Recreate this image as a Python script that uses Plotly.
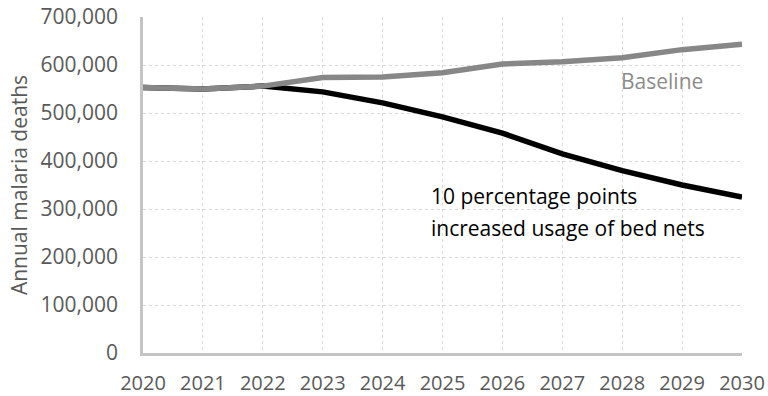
import plotly.graph_objects as go

years = [2020, 2021, 2022, 2023, 2024, 2025, 2026, 2027, 2028, 2029, 2030]
baseline = [553000, 550000, 556000, 574000, 575000, 584000, 602000, 607000, 615000, 632000, 643000]
bed_nets = [553000, 550000, 556000, 544000, 521000, 492000, 458000, 415000, 380000, 350000, 325000]
y_ticks = [0, 100000, 200000, 300000, 400000, 500000, 600000, 700000]

font_family = "Open Sans, Lato, sans-serif"

fig = go.Figure()

fig.add_trace(go.Scatter(
    x=years, y=bed_nets, mode="lines",
    line=dict(color="#000000", width=5.5),
    name="10 percentage points increased usage of bed nets",
))
fig.add_trace(go.Scatter(
    x=years, y=baseline, mode="lines",
    line=dict(color="#878787", width=5.5),
    name="Baseline",
))

fig.add_annotation(
    x=2028.66, y=567000, text="Baseline", showarrow=False,
    font=dict(size=21, color="#8c8c8c", family=font_family),
)
# two lines placed separately to get the wider line spacing
fig.add_annotation(
    x=2024.77, y=328000, xanchor="left", yanchor="middle",
    text="10 percentage points", showarrow=False,
    font=dict(size=21, color="#000000", family=font_family),
)
fig.add_annotation(
    x=2024.77, y=261000, xanchor="left", yanchor="middle",
    text="increased usage of bed nets", showarrow=False,
    font=dict(size=21, color="#000000", family=font_family),
)

fig.update_layout(
    width=768, height=396,
    margin=dict(l=143, r=26, t=17, b=43),
    paper_bgcolor="white", plot_bgcolor="white",
    showlegend=False,
    font=dict(family=font_family, color="#595959", size=21),
)
fig.update_xaxes(
    range=[2020, 2030], tickmode="array", tickvals=years,
    showgrid=True, gridcolor="#d9d9d9", griddash="3px,3px", gridwidth=1,
    showline=True, linecolor="#c4c4c4", linewidth=2.5,
    ticks="", ticklabelstandoff=10, zeroline=False, automargin=False,
    tickfont=dict(size=20, color="#595959"),
)
fig.update_yaxes(
    range=[0, 700000], tickmode="array", tickvals=y_ticks,
    tickformat=",d",
    showgrid=True, gridcolor="#d9d9d9", griddash="3px,3px", gridwidth=1,
    showline=True, linecolor="#c4c4c4", linewidth=2.5,
    ticks="", ticklabelstandoff=18, zeroline=False, automargin=False,
    tickfont=dict(size=21, color="#595959"),
    title=dict(text="Annual malaria deaths", standoff=8,
               font=dict(size=21, color="#595959")),
)

# drop the default 8px body margin so the figure fills the window exactly
fig.write_html(
    "out.html",
    config={"displayModeBar": False},
    post_script="document.body.style.margin = '0';",
)
